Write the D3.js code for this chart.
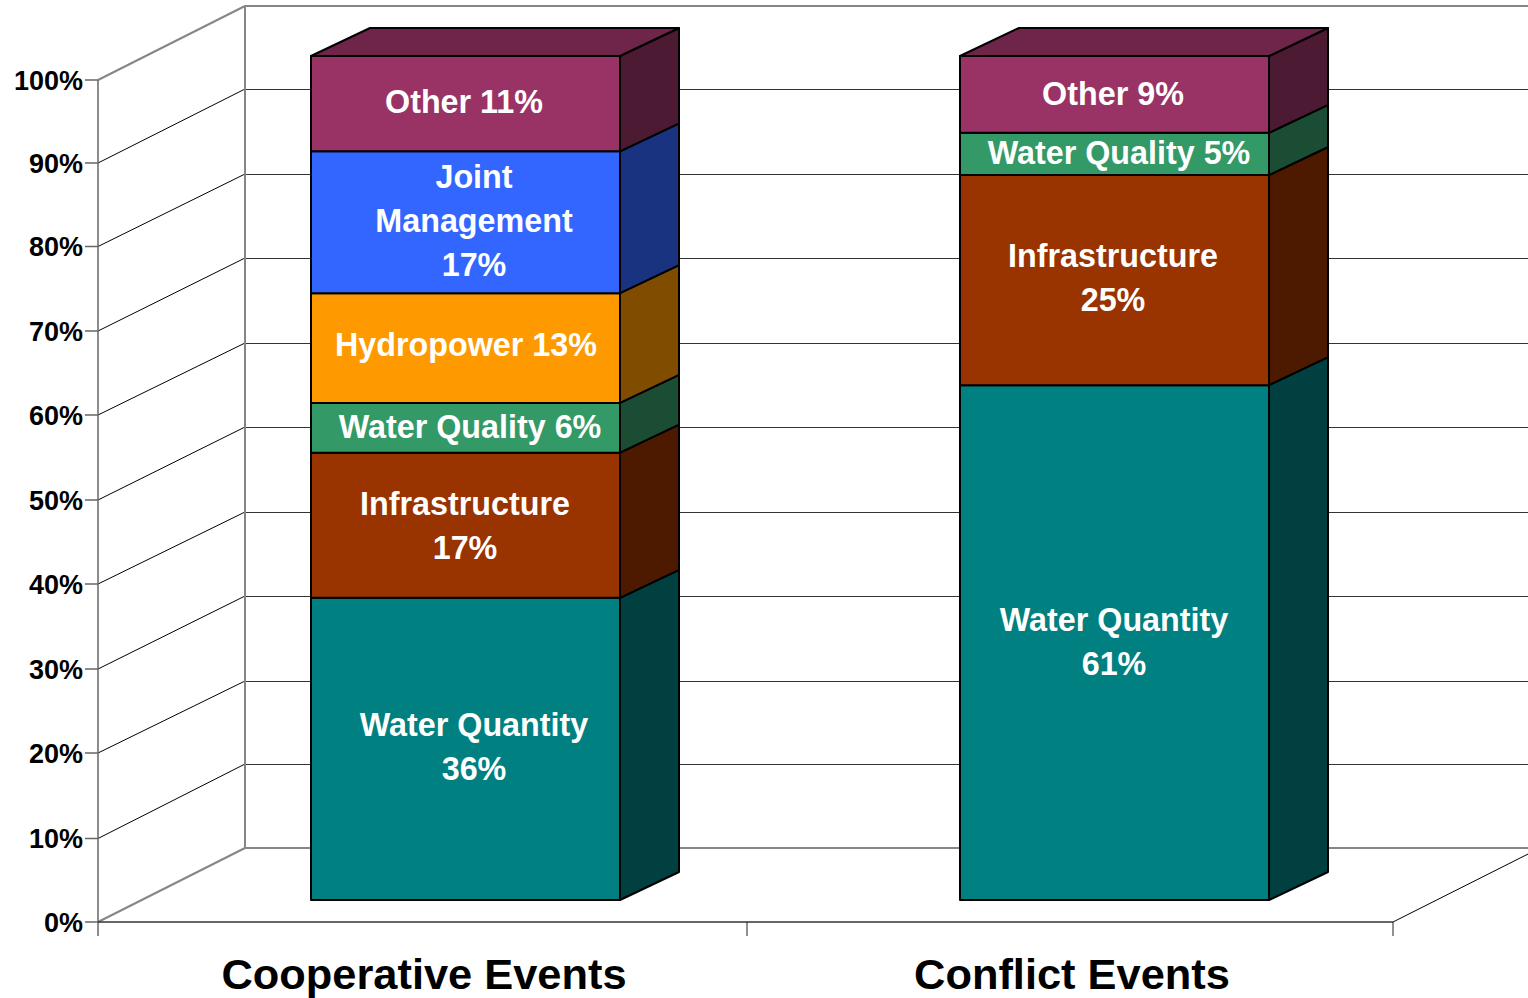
<!DOCTYPE html>
<html><head><meta charset="utf-8">
<script src="https://cdn.jsdelivr.net/npm/d3@7/dist/d3.min.js"></script>
<style>html,body{margin:0;padding:0;background:#fff;overflow:hidden}svg{display:block}text{font-family:"Liberation Sans",Arial,sans-serif;font-weight:bold}</style>
</head><body><svg id="c" width="1528" height="998"></svg>
<script>
const categories = ["Cooperative Events", "Conflict Events"];
const seriesNames = ["Water Quantity", "Infrastructure", "Water Quality", "Hydropower", "Joint Management", "Other"];
const cooperativeValues = [35.8, 17.2, 5.9, 13.0, 16.8, 11.3];
const conflictValues = [61.0, 24.9, 5.0, 0, 0, 9.1];
const cooperativeLabels = [["Water Quantity","36%"],["Infrastructure","17%"],["Water Quality 6%"],["Hydropower 13%"],["Joint","Management","17%"],["Other 11%"]];
const conflictLabels = [["Water Quantity","61%"],["Infrastructure","25%"],["Water Quality 5%"],[],[],["Other 9%"]];
const tickLabels = ["0%","10%","20%","30%","40%","50%","60%","70%","80%","90%","100%"];
const tickValues = [0,10,20,30,40,50,60,70,80,90,100];
const frontColors = ["#008080","#993300","#339966","#ff9900","#3366ff","#993366"];
const sideColors = ["#004040","#4d1a00","#1a4d33","#804d00","#1a3380","#4d1a33"];
const topColors = ["#004040","#4d1a00","#1a4d33","#804d00","#1a3380","#6e2549"];
// label anchor layout per bar, segment: [centre x, first baseline y]
const labelLayout = [
  [[474,736],[465,515],[470,438],[466,356],[474,188],[464,113]],
  [[1114,631],[1113,267],[1119,164],null,null,[1113,105]]
];

const svg = d3.select("#c");
const width = 1528;
const yFront = d3.scaleLinear().domain(tickValues).range([922,838.5,753,669,584,500,415,331,246.5,163,80]);
const yBack = d3.scaleLinear().domain(tickValues).range([848,764,681,596,512,427,343,258,174,89,6]);
const yBar = d3.scaleLinear().domain([0,100]).range([900,56]);
const xFrontLeft = 98, xBackLeft = 245, xFrontRight = 1393;
const depth = {dx:59, dy:-28};
const xBand = d3.scaleOrdinal().domain(categories).range([311,960]);
const barW = 309;

// walls and gridlines
tickValues.forEach((v,i)=>{
  const edge = v===0||v===100;
  const c = edge ? "#868686" : "#000";
  const sw = edge ? 2 : 1;
  svg.append("line").attr("x1",xFrontLeft).attr("y1",yFront(v)).attr("x2",xBackLeft).attr("y2",yBack(v)).attr("stroke",c).attr("stroke-width",sw);
  svg.append("line").attr("x1",xBackLeft).attr("y1",yBack(v)+(edge?0:0.5)).attr("x2",width).attr("y2",yBack(v)+(edge?0:0.5)).attr("stroke",edge?"#868686":"#333").attr("stroke-width",sw);
  svg.append("line").attr("x1",85).attr("y1",yFront(v)).attr("x2",xFrontLeft).attr("y2",yFront(v)).attr("stroke","#666").attr("stroke-width",1.5);
  svg.append("text").attr("x",83).attr("y",yFront(v)+9.5).attr("text-anchor","end").attr("font-size",27).attr("fill","#000").text(tickLabels[i]);
});
svg.append("line").attr("x1",xBackLeft).attr("y1",yBack(0)).attr("x2",xBackLeft).attr("y2",yBack(100)).attr("stroke","#868686").attr("stroke-width",2);
svg.append("line").attr("x1",xFrontLeft).attr("y1",yFront(0)+14).attr("x2",xFrontLeft).attr("y2",yFront(100)).attr("stroke","#666").attr("stroke-width",1.5);
svg.append("line").attr("x1",xFrontLeft).attr("y1",yFront(0)).attr("x2",xFrontRight).attr("y2",yFront(0)).attr("stroke","#333").attr("stroke-width",1.5);
svg.append("line").attr("x1",xFrontRight).attr("y1",yFront(0)).attr("x2",xFrontRight+(xBackLeft-xFrontLeft)).attr("y2",yBack(0)).attr("stroke","#000").attr("stroke-width",1);
[747,xFrontRight].forEach(x=>svg.append("line").attr("x1",x).attr("y1",922).attr("x2",x).attr("y2",936).attr("stroke","#222").attr("stroke-width",1));

// bars
const allValues = [cooperativeValues, conflictValues];
const allLabels = [cooperativeLabels, conflictLabels];
function poly(pts,fill){
  svg.append("polygon").attr("points",pts.map(p=>p.join(",")).join(" ")).attr("fill",fill).attr("stroke","#000").attr("stroke-width",2).attr("stroke-linejoin","round");
}
categories.forEach((cat,b)=>{
  const x0 = xBand(cat), x1 = x0+barW;
  const stack = d3.cumsum(allValues[b]);
  allValues[b].forEach((v,i)=>{
    if(v===0) return;
    const y0 = yBar(stack[i]-v), y1 = yBar(stack[i]);
    poly([[x0,y0],[x1,y0],[x1,y1],[x0,y1]],frontColors[i]);
    poly([[x1,y0],[x1+depth.dx,y0+depth.dy],[x1+depth.dx,y1+depth.dy],[x1,y1]],sideColors[i]);
    if(i===allValues[b].length-1){
      poly([[x0,y1],[x1,y1],[x1+depth.dx,y1+depth.dy],[x0+depth.dx,y1+depth.dy]],topColors[i]);
    }
  });
  allLabels[b].forEach((lines,i)=>{
    const pos = labelLayout[b][i];
    if(!pos) return;
    lines.forEach((t,k)=>{
      svg.append("text").attr("x",pos[0]).attr("y",pos[1]+k*44).attr("text-anchor","middle").attr("font-size",32.3).attr("fill","#fff").text(t);
    });
  });
});

// category labels
const catX = d3.scaleOrdinal().domain(categories).range([424,1072]);
categories.forEach(c=>svg.append("text").attr("x",catX(c)).attr("y",989).attr("text-anchor","middle").attr("font-size",43.4).attr("fill","#000").text(c));
</script></body></html>
